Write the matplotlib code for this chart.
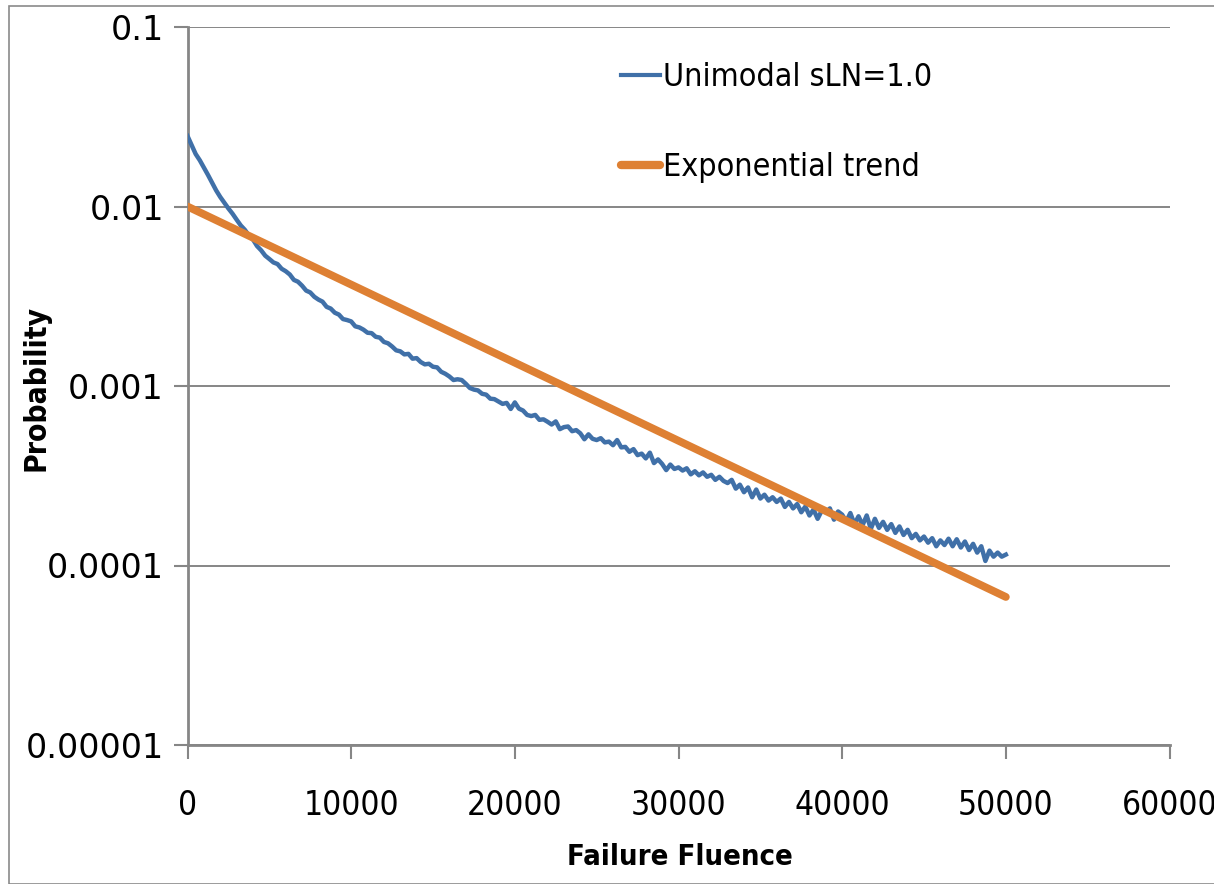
import numpy as np
import matplotlib
matplotlib.use("Agg")
from matplotlib import pyplot as plt
from matplotlib.patches import Rectangle

# failure fluence sampled every 250 units
fluence = np.arange(0, 50001, 250)

# simulated probability for the unimodal distribution, sLN = 1.0
unimodal = [
    0.0247, 0.0220, 0.0196, 0.0181, 0.0165, 0.0150, 0.0136, 0.0123, 0.0113, 0.0105,
    0.00975, 0.00912, 0.00845, 0.00785, 0.00742, 0.00690, 0.00655, 0.00602, 0.00570, 0.00532,
    0.00510, 0.00488, 0.00478, 0.00450, 0.00436, 0.00418, 0.00390, 0.00381, 0.00362, 0.00340,
    0.00332, 0.00314, 0.00303, 0.00295, 0.00276, 0.00270, 0.00256, 0.00250, 0.00236, 0.00233,
    0.00229, 0.00215, 0.00212, 0.00206, 0.00198, 0.00197, 0.00188, 0.00186, 0.00176, 0.00173,
    0.00166, 0.00158, 0.00156, 0.00150, 0.00151, 0.00142, 0.00143, 0.00136, 0.00132, 0.00133,
    0.00128, 0.00127, 0.00120, 0.00117, 0.00113, 0.00108, 0.00109, 0.00108, 0.00103, 0.000975,
    0.000955, 0.000945, 0.000905, 0.000895, 0.000850, 0.000845, 0.000820, 0.000795, 0.000805, 0.000745,
    0.000810, 0.000748, 0.000730, 0.000690, 0.000680, 0.000690, 0.000648, 0.000652, 0.000632, 0.000610,
    0.000635, 0.000575, 0.000590, 0.000595, 0.000560, 0.000568, 0.000545, 0.000505, 0.000538, 0.000508,
    0.000500, 0.000512, 0.000485, 0.000490, 0.000468, 0.000500, 0.000455, 0.000458, 0.000430, 0.000445,
    0.000412, 0.000420, 0.000395, 0.000425, 0.000372, 0.000390, 0.000368, 0.000340, 0.000365, 0.000345,
    0.000352, 0.000338, 0.000348, 0.000322, 0.000335, 0.000318, 0.000330, 0.000312, 0.000320, 0.000300,
    0.000312, 0.000296, 0.000288, 0.000300, 0.000268, 0.000282, 0.000256, 0.000272, 0.000240, 0.000265,
    0.000236, 0.000248, 0.000230, 0.000240, 0.000226, 0.000236, 0.000212, 0.000226, 0.000208, 0.000220,
    0.000198, 0.000213, 0.000190, 0.000205, 0.000182, 0.000202, 0.000198, 0.000208, 0.000180, 0.000200,
    0.000192, 0.000176, 0.000196, 0.000170, 0.000188, 0.000168, 0.000190, 0.000160, 0.000182, 0.000162,
    0.000175, 0.000158, 0.000170, 0.000152, 0.000165, 0.000148, 0.000158, 0.000142, 0.000150, 0.000138,
    0.000145, 0.000134, 0.000142, 0.000128, 0.000138, 0.000130, 0.000141, 0.000128, 0.000140, 0.000126,
    0.000136, 0.000122, 0.000132, 0.000118, 0.000128, 0.000106, 0.000121, 0.000112, 0.000118, 0.000112,
    0.000115,
]

# exponential fit: end points of the trend line
trend_fluence = [0, 50000]
trend_prob = [0.0100, 0.0000668]

x_ticks = [0, 10000, 20000, 30000, 40000, 50000, 60000]
y_ticks = [0.00001, 0.0001, 0.001, 0.01, 0.1]
y_tick_labels = ["0.00001", "0.0001", "0.001", "0.01", "0.1"]

BLUE = "#4070A8"
ORANGE = "#DE8033"
GREY = "#868686"
COND = dict(family="DejaVu Sans", stretch="condensed")

W, H = 1214, 884
fig = plt.figure(figsize=(W / 100, H / 100), dpi=100)
fig.patches.append(Rectangle((9 / W, 0), 1.0, 1 - 6 / H, transform=fig.transFigure,
                             fill=False, edgecolor="#8a8a8a", linewidth=1.2))
ax = fig.add_axes([187.5 / W, 1 - 745 / H, 982 / W, 718 / H])

ax.plot(fluence, unimodal, color=BLUE, linewidth=3.2, label="Unimodal sLN=1.0", zorder=3)
ax.plot(trend_fluence, trend_prob, color=ORANGE, linewidth=5.6, solid_capstyle="round",
        label="Exponential trend", zorder=4)

ax.set_yscale("log")
ax.set_xlim(0, 60000)
ax.set_ylim(1e-5, 0.1)
ax.set_xticks(x_ticks)
ax.set_xticklabels([str(v) for v in x_ticks], fontsize=24, **COND)
ax.set_yticks(y_ticks)
ax.set_yticklabels(y_tick_labels, fontsize=24)
ax.yaxis.set_minor_locator(matplotlib.ticker.NullLocator())
ax.tick_params(axis="both", direction="out", length=10, width=1.5, color=GREY)
ax.tick_params(axis="y", pad=7)
ax.tick_params(axis="x", pad=22)

ax.grid(axis="y", color=GREY, linewidth=1.4)
ax.set_axisbelow(True)
for side in ("top", "right"):
    ax.spines[side].set_visible(False)
for side in ("left", "bottom"):
    ax.spines[side].set_color(GREY)
    ax.spines[side].set_linewidth(2)

fig.text(680 / W, 1 - 857 / H, "Failure Fluence", ha="center", va="center",
         fontsize=21, fontweight="bold", **COND)
fig.text(36 / W, 1 - 388 / H, "Probability", ha="center", va="center", rotation=90,
         fontsize=21.5, fontweight="bold", **COND)

leg = ax.legend(loc="upper left", bbox_to_anchor=(421 / 982, 1 - 22 / 718), frameon=False,
                prop=dict(size=23, **COND), handlelength=1.2, handletextpad=0.12,
                labelspacing=1.85, borderaxespad=0)
leg.get_lines()[0].set_linewidth(3)
leg.get_lines()[1].set_linewidth(6)

fig.savefig("out.png", dpi=100)
